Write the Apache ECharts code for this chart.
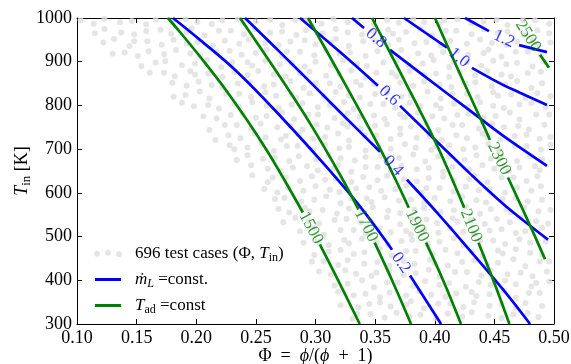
<!DOCTYPE html>
<html><head><meta charset="utf-8">
<script src="https://cdn.jsdelivr.net/npm/echarts@6/dist/echarts.min.js"></script>
<style>html,body{margin:0;padding:0;background:#fff}#c{width:571px;height:364px}</style>
</head><body><div id="c"></div>
<script>
// ---------- data ----------
const xTicks = [0.10,0.15,0.20,0.25,0.30,0.35,0.40,0.45,0.50];
const yTicks = [300,400,500,600,700,800,900,1000];

// 696 test cases (Phi, T_in) - estimated positions
const testCases = [
[0.103,995],[0.114,987],[0.123,998],[0.136,990],[0.146,993],[0.158,985],[0.166,996],[0.180,989],[0.191,997],[0.201,991],[0.213,986],[0.222,994],[0.235,997],[0.239,988],[0.250,992],[0.262,996],[0.272,984],[0.283,995],[0.292,995],[0.305,987],[0.315,998],[0.327,990],[0.335,993],[0.349,985],[0.360,996],[0.370,989],[0.382,997],[0.391,991],[0.404,986],[0.408,994],[0.419,997],[0.431,988],[0.441,992],[0.452,996],[0.461,984],[0.474,995],[0.484,995],[0.496,987],
[0.115,965],[0.123,975],[0.137,967],[0.148,962],[0.158,970],[0.170,973],[0.179,964],[0.192,968],[0.196,976],[0.207,960],[0.219,971],[0.229,971],[0.240,963],[0.249,974],[0.262,966],[0.272,969],[0.284,961],[0.292,972],[0.306,965],[0.317,975],[0.327,967],[0.339,962],[0.348,970],[0.361,973],[0.365,964],[0.376,968],[0.388,976],[0.398,960],[0.409,971],[0.418,971],[0.431,963],[0.441,974],[0.453,966],[0.461,969],[0.475,961],[0.486,972],[0.496,965],
[0.122,944],[0.131,952],[0.144,936],[0.148,947],[0.159,947],[0.171,939],[0.181,950],[0.192,942],[0.201,945],[0.214,937],[0.224,948],[0.236,941],[0.244,951],[0.258,943],[0.269,938],[0.279,946],[0.291,949],[0.300,940],[0.313,944],[0.317,952],[0.328,936],[0.340,947],[0.350,947],[0.361,939],[0.370,950],[0.383,942],[0.393,945],[0.405,937],[0.413,948],[0.427,941],[0.438,951],[0.448,943],[0.460,938],[0.469,946],[0.482,949],[0.486,940],[0.497,944],
[0.130,918],[0.140,921],[0.151,913],[0.160,924],[0.173,917],[0.183,927],[0.195,919],[0.203,914],[0.217,922],[0.228,925],[0.238,916],[0.250,920],[0.259,928],[0.272,912],[0.276,923],[0.287,923],[0.299,915],[0.309,926],[0.320,918],[0.329,921],[0.342,913],[0.352,924],[0.364,917],[0.372,927],[0.386,919],[0.397,914],[0.407,922],[0.419,925],[0.428,916],[0.441,920],[0.445,928],[0.456,912],[0.468,923],[0.478,923],[0.489,915],
[0.154,890],[0.166,898],[0.174,901],[0.188,892],[0.199,896],[0.209,904],[0.221,888],[0.230,899],[0.243,899],[0.247,891],[0.258,902],[0.270,894],[0.280,897],[0.291,889],[0.300,900],[0.313,893],[0.323,903],[0.335,895],[0.343,890],[0.357,898],[0.368,901],[0.378,892],[0.390,896],[0.399,904],[0.412,888],[0.416,899],[0.427,899],[0.439,891],[0.449,902],[0.460,894],[0.469,897],[0.482,889],[0.492,900],
[0.161,875],[0.173,875],[0.182,867],[0.195,878],[0.199,870],[0.210,873],[0.222,865],[0.232,876],[0.243,869],[0.252,879],[0.265,871],[0.275,866],[0.287,874],[0.295,877],[0.309,868],[0.320,872],[0.330,880],[0.342,864],[0.351,875],[0.364,875],[0.368,867],[0.379,878],[0.391,870],[0.401,873],[0.412,865],[0.421,876],[0.434,869],[0.444,879],[0.456,871],[0.464,866],[0.478,874],[0.489,877],
[0.180,852],[0.192,845],[0.202,855],[0.213,847],[0.222,842],[0.235,850],[0.245,853],[0.257,844],[0.265,848],[0.279,856],[0.290,840],[0.300,851],[0.312,851],[0.321,843],[0.334,854],[0.338,846],[0.349,849],[0.361,841],[0.371,852],[0.382,845],[0.391,855],[0.404,847],[0.414,842],[0.426,850],[0.434,853],[0.448,844],[0.459,848],[0.469,856],[0.481,840],[0.490,851],
[0.181,820],[0.191,824],[0.203,832],[0.211,816],[0.225,827],[0.236,827],[0.246,819],[0.258,830],[0.267,822],[0.280,825],[0.284,817],[0.295,828],[0.307,821],[0.317,831],[0.328,823],[0.337,818],[0.350,826],[0.360,829],[0.372,820],[0.380,824],[0.394,832],[0.405,816],[0.415,827],[0.427,827],[0.436,819],[0.449,830],[0.453,822],[0.464,825],[0.476,817],[0.486,828],[0.497,821],
[0.188,806],[0.198,798],[0.210,801],[0.219,793],[0.232,804],[0.236,797],[0.247,807],[0.259,799],[0.269,794],[0.280,802],[0.289,805],[0.302,796],[0.312,800],[0.324,808],[0.332,792],[0.346,803],[0.357,803],[0.367,795],[0.379,806],[0.388,798],[0.401,801],[0.405,793],[0.416,804],[0.428,797],[0.438,807],[0.449,799],[0.458,794],[0.471,802],[0.481,805],[0.493,796],
[0.206,775],[0.217,770],[0.229,778],[0.239,781],[0.250,772],[0.259,776],[0.272,784],[0.282,768],[0.294,779],[0.302,779],[0.316,771],[0.327,782],[0.337,774],[0.349,777],[0.358,769],[0.371,780],[0.375,773],[0.386,783],[0.398,775],[0.408,770],[0.419,778],[0.428,781],[0.441,772],[0.451,776],[0.463,784],[0.471,768],[0.485,779],[0.496,779],
[0.211,744],[0.224,755],[0.234,755],[0.246,747],[0.254,758],[0.268,750],[0.279,753],[0.289,745],[0.301,756],[0.310,749],[0.323,759],[0.327,751],[0.338,746],[0.350,754],[0.360,757],[0.371,748],[0.380,752],[0.393,760],[0.403,744],[0.415,755],[0.423,755],[0.437,747],[0.448,758],[0.458,750],[0.470,753],[0.479,745],[0.492,756],
[0.216,721],[0.227,732],[0.237,725],[0.249,735],[0.258,727],[0.271,722],[0.275,730],[0.286,733],[0.298,724],[0.308,728],[0.319,736],[0.328,720],[0.341,731],[0.351,731],[0.363,723],[0.371,734],[0.385,726],[0.396,729],[0.406,721],[0.418,732],[0.427,725],[0.440,735],[0.444,727],[0.455,722],[0.467,730],[0.477,733],[0.488,724],[0.497,728],
[0.228,709],[0.232,700],[0.243,704],[0.255,712],[0.265,696],[0.276,707],[0.285,707],[0.298,699],[0.308,710],[0.320,702],[0.328,705],[0.342,697],[0.353,708],[0.363,701],[0.375,711],[0.384,703],[0.397,698],[0.401,706],[0.412,709],[0.424,700],[0.434,704],[0.445,712],[0.454,696],[0.467,707],[0.477,707],[0.489,699],[0.497,710],
[0.234,675],[0.243,686],[0.256,678],[0.266,681],[0.278,673],[0.286,684],[0.300,677],[0.311,687],[0.321,679],[0.333,674],[0.342,682],[0.355,685],[0.359,676],[0.370,680],[0.382,688],[0.392,672],[0.403,683],[0.412,683],[0.425,675],[0.435,686],[0.447,678],[0.455,681],[0.469,673],[0.480,684],[0.490,677],
[0.246,663],[0.260,655],[0.271,650],[0.281,658],[0.293,661],[0.302,652],[0.315,656],[0.319,664],[0.330,648],[0.342,659],[0.352,659],[0.363,651],[0.372,662],[0.385,654],[0.395,657],[0.407,649],[0.415,660],[0.429,653],[0.440,663],[0.450,655],[0.462,650],[0.471,658],[0.484,661],[0.488,652],
[0.247,640],[0.260,624],[0.264,635],[0.275,635],[0.287,627],[0.297,638],[0.308,630],[0.317,633],[0.330,625],[0.340,636],[0.352,629],[0.360,639],[0.374,631],[0.385,626],[0.395,634],[0.407,637],[0.416,628],[0.429,632],[0.433,640],[0.444,624],[0.456,635],[0.466,635],[0.477,627],[0.486,638],
[0.257,609],[0.268,601],[0.277,612],[0.290,605],[0.300,615],[0.312,607],[0.320,602],[0.334,610],[0.345,613],[0.355,604],[0.367,608],[0.376,616],[0.389,600],[0.393,611],[0.404,611],[0.416,603],[0.426,614],[0.437,606],[0.446,609],[0.459,601],[0.469,612],[0.481,605],[0.489,615],
[0.266,586],[0.274,589],[0.288,580],[0.299,584],[0.309,592],[0.321,576],[0.330,587],[0.343,587],[0.347,579],[0.358,590],[0.370,582],[0.380,585],[0.391,577],[0.400,588],[0.413,581],[0.423,591],[0.435,583],[0.443,578],[0.457,586],[0.468,589],[0.478,580],[0.490,584],
[0.269,563],[0.278,555],[0.291,566],[0.295,558],[0.306,561],[0.318,553],[0.328,564],[0.339,557],[0.348,567],[0.361,559],[0.371,554],[0.383,562],[0.391,565],[0.405,556],[0.416,560],[0.426,568],[0.438,552],[0.447,563],[0.460,563],[0.464,555],[0.475,566],[0.487,558],[0.497,561],
[0.273,533],[0.283,543],[0.294,535],[0.303,530],[0.316,538],[0.326,541],[0.338,532],[0.346,536],[0.360,544],[0.371,528],[0.381,539],[0.393,539],[0.402,531],[0.415,542],[0.419,534],[0.430,537],[0.442,529],[0.452,540],[0.463,533],[0.472,543],[0.485,535],[0.495,530],
[0.287,512],[0.299,520],[0.307,504],[0.321,515],[0.332,515],[0.342,507],[0.354,518],[0.363,510],[0.376,513],[0.380,505],[0.391,516],[0.403,509],[0.413,519],[0.424,511],[0.433,506],[0.446,514],[0.456,517],[0.468,508],[0.476,512],[0.490,520],
[0.290,486],[0.302,489],[0.311,481],[0.324,492],[0.328,485],[0.339,495],[0.351,487],[0.361,482],[0.372,490],[0.381,493],[0.394,484],[0.404,488],[0.416,496],[0.424,480],[0.438,491],[0.449,491],[0.459,483],[0.471,494],[0.480,486],[0.493,489],
[0.299,458],[0.311,466],[0.321,469],[0.332,460],[0.341,464],[0.354,472],[0.364,456],[0.376,467],[0.384,467],[0.398,459],[0.409,470],[0.419,462],[0.431,465],[0.440,457],[0.453,468],[0.457,461],[0.468,471],[0.480,463],[0.490,458],
[0.297,443],[0.307,443],[0.319,435],[0.327,446],[0.341,438],[0.352,441],[0.362,433],[0.374,444],[0.383,437],[0.396,447],[0.400,439],[0.411,434],[0.423,442],[0.433,445],[0.444,436],[0.453,440],[0.466,448],[0.476,432],[0.488,443],[0.496,443],
[0.303,420],[0.313,413],[0.325,423],[0.334,415],[0.347,410],[0.351,418],[0.362,421],[0.374,412],[0.384,416],[0.395,424],[0.404,408],[0.417,419],[0.427,419],[0.439,411],[0.447,422],[0.461,414],[0.472,417],[0.482,409],[0.494,420],
[0.316,388],[0.327,392],[0.339,400],[0.349,384],[0.360,395],[0.369,395],[0.382,387],[0.392,398],[0.404,390],[0.412,393],[0.426,385],[0.437,396],[0.447,389],[0.459,399],[0.468,391],[0.481,386],[0.485,394],[0.496,397],
[0.319,374],[0.332,366],[0.342,369],[0.354,361],[0.362,372],[0.376,365],[0.387,375],[0.397,367],[0.409,362],[0.418,370],[0.431,373],[0.435,364],[0.446,368],[0.458,376],[0.468,360],[0.479,371],[0.488,371],
[0.321,343],[0.336,338],[0.345,346],[0.354,349],[0.363,340],[0.376,344],[0.380,352],[0.391,336],[0.403,347],[0.413,347],[0.424,339],[0.433,350],[0.446,342],[0.456,345],[0.468,337],[0.476,348],[0.490,341],
[0.331,312],[0.335,323],[0.346,323],[0.358,315],[0.368,326],[0.379,318],[0.388,321],[0.401,313],[0.411,324],[0.423,317],[0.431,327],[0.445,319],[0.456,314],[0.466,322],[0.478,325],[0.487,316]
];

// contour lines of constant mass flow rate m_L (null = gap for the label)
const mL_02 = [[0.1805,1000],[0.2031,950],[0.2342,877],[0.2728,769],[0.3113,653],[0.3373,569],[0.3642,470],null,[0.3793,411],[0.4053,300]];
const mL_04 = [[0.2409,1000],[0.2702,922],[0.2979,847],[0.3264,769],[0.3541,694],null,[0.3767,630],[0.4019,555],[0.4296,468],[0.4572,379],[0.4799,300]];
const mL_06 = [[0.2870,1000],[0.3206,922],[0.3524,845],null,[0.3709,799],[0.4019,717],[0.4296,644],[0.4572,575],[0.4757,534],[0.4950,493]];
const mL_08 = [[0.3306,1000],[0.3407,977],null,[0.3625,927],[0.4019,845],[0.4296,788],[0.4572,731],[0.4941,662]];
const mL_10 = [[0.3742,1000],[0.4103,932],null,[0.4312,886],[0.4572,847],[0.4715,829],[0.4941,801]];
const mL_12 = [[0.4254,1000],[0.4455,970],null,[0.4707,938],[0.4941,922]];
const mLLevels = ['0.2','0.4','0.6','0.8','1.0','1.2'];
const mLLabelAt = [[0.3717,440],[0.3650,662],[0.3617,822],[0.3507,954],[0.4204,909],[0.4581,952]];

// contour lines of constant adiabatic flame temperature T_ad
const Tad_1500 = [[0.1763,1000],[0.1863,968],[0.2028,913],[0.2222,845],[0.2424,767],[0.2587,699],[0.2738,630],[0.2894,555],null,[0.3036,482],[0.3186,402],[0.3371,300]];
const Tad_1700 = [[0.2367,1000],[0.2703,865],[0.2972,751],[0.3229,630],[0.3360,562],null,[0.3496,486],[0.3650,395],[0.3801,300]];
const Tad_1900 = [[0.2937,1000],[0.3252,847],[0.3546,699],[0.3672,630],[0.3782,566],null,[0.3927,486],[0.4078,395],[0.4220,300]];
const Tad_2100 = [[0.3474,1000],[0.3744,858],[0.4008,715],[0.4148,630],[0.4247,566],null,[0.4367,486],[0.4511,386],[0.4626,300]];
const Tad_2300 = [[0.4002,1000],[0.4245,852],[0.4388,767],[0.4463,721],null,[0.4614,635],[0.4815,516],[0.4925,448]];
const Tad_2500 = [[0.4690,1000],null,[0.4883,916],[0.4958,886]];
const TadLevels = ['1500','1700','1900','2100','2300','2500'];
const TadLabelAt = [[0.2962,520],[0.3424,525],[0.3851,525],[0.4304,525],[0.4539,678],[0.4782,959]];

// ---------- chart ----------
const SERIF = "'Liberation Serif','DejaVu Serif',serif";
const BLUE = '#0000ff', GREEN = '#008000', DOT = '#dfdfdf';
const mLLines = [mL_02, mL_04, mL_06, mL_08, mL_10, mL_12];
const TadLines = [Tad_1500, Tad_1700, Tad_1900, Tad_2100, Tad_2300, Tad_2500];

function segments(arr){
  const out = []; let cur = [];
  arr.forEach(p => { if (p === null) { if (cur.length) out.push(cur); cur = []; } else cur.push(p); });
  if (cur.length) out.push(cur);
  return out;
}

function richSet(size){
  const s = Math.round(size * 0.7);
  return {
    i:   {fontFamily: SERIF, fontStyle: 'italic', fontSize: size, color: '#000'},
    sub: {fontFamily: SERIF, fontSize: s, lineHeight: s, padding: [Math.round(size*0.52),0,0,0], color: '#000'},
    isub:{fontFamily: SERIF, fontStyle: 'italic', fontSize: s, lineHeight: s, padding: [Math.round(size*0.52),0,0,0], color: '#000'}
  };
}

const series = [];
series.push({name: 'cases', type: 'scatter', data: testCases, symbol: 'circle', symbolSize: 6,
  itemStyle: {color: DOT}, z: 1, silent: true});
function addLines(lines, name, color){
  lines.forEach(l => segments(l).forEach(seg => series.push({
    name: name, type: 'line', data: seg, showSymbol: false, symbol: 'none', smooth: 0.4, smoothMonotone: 'none',
    color: color, lineStyle: {color: color, width: 2.7}, itemStyle: {color: color}, z: 3, silent: true
  })));
}
addLines(mLLines, 'mdot', BLUE);
addLines(TadLines, 'tad', GREEN);
const labelSeries = (id, color) => ({id: id, type: 'scatter', data: [], symbol: 'circle', symbolSize: 1,
  itemStyle: {color: 'rgba(0,0,0,0)'}, z: 5, silent: true,
  label: {show: true, position: 'inside', formatter: p => p.name, color: color, fontFamily: SERIF, fontSize: 17}});
series.push(labelSeries('mlab', BLUE));
series.push(labelSeries('tlab', GREEN));

const axisCommon = {
  axisLine: {show: true, onZero: false, lineStyle: {color: '#000', width: 1}},
  axisTick: {show: true, inside: true, length: 5, lineStyle: {color: '#000', width: 1}},
  splitLine: {show: false}
};
const legendText = {
  cases: '696 test cases (Φ, {i|T}{sub|in})',
  mdot: '{i|ṁ}{isub|L} =const.',
  tad: '{i|T}{sub|ad} =const'
};
const legendBase = {orient: 'vertical', padding: 0, selectedMode: false,
  formatter: n => legendText[n],
  textStyle: {fontFamily: SERIF, fontSize: 17, color: '#000', padding: [0,0,0,9], rich: richSet(17)}};

const option = {
  animation: false,
  backgroundColor: '#fff',
  grid: {left: 77, right: 17, top: 18, bottom: 40, containLabel: false, outerBoundsMode: 'none'},
  xAxis: [
    Object.assign({type: 'value', min: xTicks[0], max: xTicks[xTicks.length-1], interval: 0.05, position: 'bottom',
      axisLabel: {show: true, margin: 5, color: '#000', fontFamily: SERIF, fontSize: 18, formatter: v => v.toFixed(2)},
      name: 'Φ  =  {i|ϕ}/({i|ϕ}  +  1)', nameLocation: 'middle', nameGap: 23, nameMoveOverlap: false,
      nameTextStyle: {fontFamily: SERIF, fontSize: 18, color: '#000', rich: richSet(18)}}, axisCommon),
    Object.assign({type: 'value', min: xTicks[0], max: xTicks[xTicks.length-1], interval: 0.05, position: 'top',
      axisLabel: {show: false}}, axisCommon)
  ],
  yAxis: [
    Object.assign({type: 'value', min: yTicks[0], max: yTicks[yTicks.length-1], interval: 100, position: 'left',
      axisLabel: {show: true, margin: 5, color: '#000', fontFamily: SERIF, fontSize: 18, formatter: v => String(v)},
      name: '{i|T}{sub|in} [K]', nameLocation: 'middle', nameGap: 46, nameRotate: 90, nameMoveOverlap: false,
      nameTextStyle: {fontFamily: SERIF, fontSize: 18, color: '#000', rich: richSet(18)}}, axisCommon),
    Object.assign({type: 'value', min: yTicks[0], max: yTicks[yTicks.length-1], interval: 100, position: 'right',
      axisLabel: {show: false}}, axisCommon)
  ],
  legend: [
    Object.assign({}, legendBase, {data: ['cases'], left: 94, top: 243, itemWidth: 28, itemHeight: 7.5,
      icon: 'path://M0,4a3,3 0 1,0 6,0a3,3 0 1,0 -6,0zM11,3a3,3 0 1,0 6,0a3,3 0 1,0 -6,0zM22,4.5a3,3 0 1,0 6,0a3,3 0 1,0 -6,0z',
      textStyle: Object.assign({}, legendBase.textStyle, {padding: [0,0,0,8]})}),
    Object.assign({}, legendBase, {data: ['mdot'], left: 95, top: 269, itemWidth: 26, itemHeight: 3, icon: 'rect'}),
    Object.assign({}, legendBase, {data: ['tad'], left: 95, top: 295, itemWidth: 26, itemHeight: 3, icon: 'rect'})
  ],
  series: series
};

const chart = echarts.init(document.getElementById('c'), null, {renderer: 'canvas'});
chart.setOption(option);

function gapAngle(line){
  const i = line.indexOf(null);
  const a = chart.convertToPixel({xAxisIndex: 0, yAxisIndex: 0}, line[i-1]);
  const b = chart.convertToPixel({xAxisIndex: 0, yAxisIndex: 0}, line[i+1]);
  return -Math.atan2(b[1]-a[1], b[0]-a[0]) * 180 / Math.PI;
}
chart.setOption({series: [
  {id: 'mlab', data: mLLabelAt.map((p, k) => ({value: p, name: mLLevels[k], label: {rotate: gapAngle(mLLines[k])}}))},
  {id: 'tlab', data: TadLabelAt.map((p, k) => ({value: p, name: TadLevels[k], label: {rotate: gapAngle(TadLines[k])}}))}
]});
</script>
</body></html>
